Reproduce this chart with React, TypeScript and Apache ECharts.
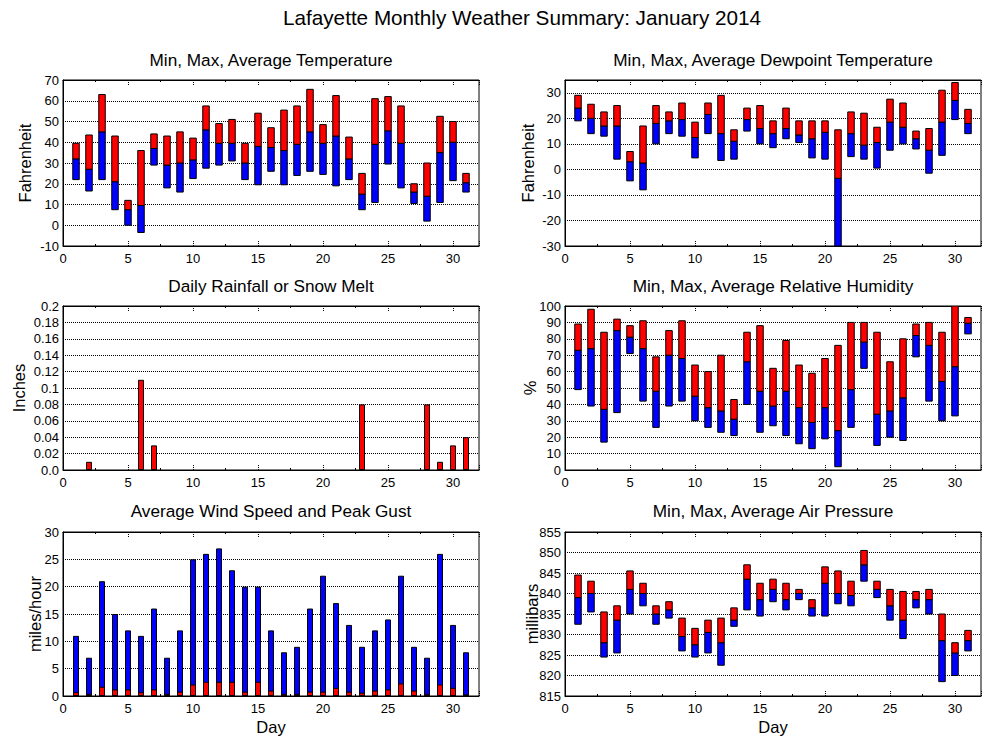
import React, { useEffect, useRef } from "react";
import * as echarts from "echarts";

const days = Array.from({ length: 31 }, (_, i) => i + 1);

const tempMin = [22, 16.5, 22, 7.5, 0, -3.5, 29, 18, 16, 22.5, 27.5, 29, 31, 22, 19.5, 26, 19.5, 24, 26, 24.5, 19, 22, 7.5, 11, 29.5, 18, 10.5, 2, 11, 21.5, 16];
const tempAvg = [32, 27, 45, 21, 7.5, 9.5, 37, 29, 30, 31.5, 46, 39.5, 39.5, 30, 38, 37.5, 36, 39, 45, 39.5, 43, 32, 15, 39, 45.5, 39.5, 16, 14, 35, 40, 20.5];
const tempMax = [39.5, 43.5, 63, 43, 12, 36, 44, 43, 45, 42, 57.5, 49, 51, 39.5, 54, 47, 55.5, 57.5, 65.5, 48.5, 62.5, 42.5, 25, 61, 62, 57.5, 20, 30, 52.5, 50, 25];

const dewMin = [19, 14, 13, 4, -4.5, -8, 10, 14, 13, 4.5, 14, 3.5, 4, 15, 10, 8.5, 12, 10.5, 4.5, 4, -30, 5, 4, 0.5, 7.5, 10, 8, -1.5, 5.5, 19.5, 14];
const dewAvg = [24, 20, 17, 17, 3, 2.5, 18, 19, 19.5, 12.5, 21.5, 14, 11, 19.5, 16, 14, 16, 13.5, 12, 14.5, -3.5, 14, 9.5, 10.5, 18.5, 16.5, 12, 7.5, 18.5, 27, 18];
const dewMax = [29, 25.5, 22.5, 25, 7, 17, 25, 22.5, 26, 18.5, 26, 29, 15.5, 24, 25, 19, 24, 19, 19, 19, 15.5, 22.5, 22, 16.5, 27.5, 26, 15, 16, 31, 34, 23.5];

const rain = [0, 0.01, 0, 0, 0, 0.11, 0.03, 0, 0, 0, 0, 0, 0, 0, 0, 0, 0, 0, 0, 0, 0, 0, 0.08, 0, 0, 0, 0, 0.08, 0.01, 0.03, 0.04];

const humMin = [49, 39, 17, 35, 71, 42, 26, 39, 42, 30, 26, 23, 21, 40, 23, 27, 21, 16, 13, 19, 2, 26, 62, 15, 20, 18, 69, 42, 30, 33, 83];
const humAvg = [73, 74, 37, 85, 81, 74, 48, 70, 68, 45, 38, 36, 31, 66, 48, 39, 48, 38, 29, 38, 24, 49, 78, 34, 36, 44, 82, 76, 54, 63, 89.5];
const humMax = [89, 98, 84, 92, 88, 91, 69, 85, 91, 64, 60, 70, 43, 84, 88, 62, 79, 64, 59, 68, 76, 90, 90, 84, 66, 80, 89, 90, 84, 100, 93];

const windGust = [11, 7, 21, 15, 12, 11, 16, 7, 12, 25, 26, 27, 23, 20, 20, 12, 8, 9, 16, 22, 17, 13, 9, 12, 14, 22, 9, 7, 26, 13, 8];
const windAvg = [0.7, 0.4, 1.7, 1.2, 1.2, 0.7, 1.2, 0.4, 0.8, 2.1, 2.6, 2.6, 2.6, 0.8, 2.6, 1.0, 0.4, 0.4, 0.8, 0.8, 1.5, 0.8, 0.6, 1.0, 1.2, 2.3, 1.0, 0.4, 2.1, 1.5, 0.3];

const presMin = [832.5, 835.5, 824.5, 825.5, 835, 837, 832.5, 834, 826, 824.5, 825.5, 822.5, 832, 836, 834.5, 838, 836, 838.5, 834.5, 834.5, 837.5, 837, 843, 839, 833.5, 829, 836.5, 835, 818.5, 820, 826];
const presAvg = [839, 840, 828, 833.5, 841, 840, 835, 836, 829.5, 827.5, 830.5, 828, 833.5, 843.5, 838.5, 841, 838.5, 840, 836.5, 842.5, 840, 839.5, 847, 841, 837, 833.5, 838.5, 838.5, 828.5, 825.5, 828.5];
const presMax = [844.5, 843, 835.5, 837, 845.5, 842.5, 837, 838, 834, 831.5, 833.5, 834, 836.5, 847, 842.5, 843.5, 842.5, 841, 838.5, 846.5, 845.5, 843, 850.5, 843, 841, 840.5, 840.5, 841, 835, 828, 831];

const mainTitle = "Lafayette Monthly Weather Summary: January 2014";
const panelTitles = [
  "Min, Max, Average Temperature",
  "Min, Max, Average Dewpoint Temperature",
  "Daily Rainfall or Snow Melt",
  "Min, Max, Average Relative Humidity",
  "Average Wind Speed and Peak Gust",
  "Min, Max, Average Air Pressure",
];
const yNames = ["Fahrenheit", "Fahrenheit", "Inches", "%", "miles/hour", "millibars"];
const xName = "Day";

const FONT = '"Liberation Sans", Arial, sans-serif';
const RED = "#ff0000";
const BLUE = "#0000ff";

// layout of the six plot areas
const grids = [
  { left: 63, top: 80, width: 416, height: 166 },
  { left: 565, top: 80, width: 416, height: 166 },
  { left: 63, top: 306, width: 416, height: 164 },
  { left: 565, top: 306, width: 416, height: 164 },
  { left: 63, top: 532, width: 416, height: 164 },
  { left: 565, top: 532, width: 416, height: 164 },
];
const titleY = [60, 60, 286, 286, 511, 511];
const yNameX = [25, 528, 19, 530, 35, 532];

const yScales = [
  { min: -10, max: 70, interval: 10, fmt: (v: number) => String(v) },
  { min: -30, max: 35, interval: 10, fmt: (v: number) => (v > 30 ? "" : String(v)) },
  { min: 0, max: 0.2, interval: 0.02, fmt: (v: number) => (v === 0 ? "0.0" : String(parseFloat(v.toFixed(2)))) },
  { min: 0, max: 100, interval: 10, fmt: (v: number) => String(v) },
  { min: 0, max: 30, interval: 5, fmt: (v: number) => String(v) },
  { min: 815, max: 855, interval: 5, fmt: (v: number) => String(v) },
];

function rangeSeries(idx: number, mins: number[], avgs: number[], maxs: number[]) {
  return {
    type: "custom",
    xAxisIndex: idx,
    yAxisIndex: idx,
    clip: true,
    encode: { x: 0, y: [1, 2, 3] },
    data: days.map((d, i) => [d, mins[i], avgs[i], maxs[i]]),
    renderItem: (_params: any, api: any) => {
      const x = api.value(0);
      const pLo = api.coord([x, api.value(1)]);
      const pMid = api.coord([x, api.value(2)]);
      const pHi = api.coord([x, api.value(3)]);
      const w = api.size([0.5, 0])[0];
      return {
        type: "group",
        children: [
          {
            type: "rect",
            shape: { x: pLo[0] - w / 2, y: pMid[1], width: w, height: pLo[1] - pMid[1] },
            style: { fill: BLUE, stroke: "#000", lineWidth: 1 },
          },
          {
            type: "rect",
            shape: { x: pHi[0] - w / 2, y: pHi[1], width: w, height: pMid[1] - pHi[1] },
            style: { fill: RED, stroke: "#000", lineWidth: 1 },
          },
        ],
      };
    },
  };
}

function textEl(text: string, x: number, y: number, size: number, rotation = 0) {
  return {
    type: "text",
    x,
    y,
    rotation,
    silent: true,
    style: {
      text,
      fill: "#000",
      font: `${size}px ${FONT}`,
      align: "center",
      verticalAlign: "middle",
      textAlign: "center",
      textVerticalAlign: "middle",
    },
  };
}

export default function App() {
  const ref = useRef<HTMLDivElement>(null);

  useEffect(() => {
    if (!ref.current) return;
    const chart = echarts.init(ref.current, undefined, { renderer: "svg" });

    const xAxes: any[] = [];
    grids.forEach((_, i) => {
      xAxes.push({
        type: "value",
        gridIndex: i,
        min: 0,
        max: 32,
        interval: 5,
        position: "bottom",
        axisLine: { show: true, onZero: false, lineStyle: { color: "#000", width: 1 } },
        axisTick: { show: true, inside: true, length: 5, lineStyle: { color: "#000", type: "dotted" } },
        minorTick: { show: true, splitNumber: 2, length: 2, lineStyle: { color: "#000" } },
        axisLabel: {
          color: "#000",
          fontSize: 13,
          fontFamily: FONT,
          margin: 6,
          showMaxLabel: false,
          formatter: (v: number) => (v > 30 ? "" : String(v)),
        },
        splitLine: { show: false },
      });
    });
    grids.forEach((_, i) => {
      xAxes.push({
        type: "value",
        gridIndex: i,
        min: 0,
        max: 32,
        interval: 5,
        position: "top",
        axisLine: { show: true, onZero: false, lineStyle: { color: "#000", width: 1 } },
        axisTick: { show: true, inside: true, length: 5, lineStyle: { color: "#000", type: "dotted" } },
        minorTick: { show: true, splitNumber: 2, length: 2, lineStyle: { color: "#000" } },
        axisLabel: { show: false },
        splitLine: { show: false },
      });
    });

    const yAxes = yScales.map((s, i) => ({
      type: "value",
      gridIndex: i,
      min: s.min,
      max: s.max,
      interval: s.interval,
      axisLine: { show: true, onZero: false, lineStyle: { color: "#000", width: 1 } },
      axisTick: { show: false },
      axisLabel: { color: "#000", fontSize: 13, fontFamily: FONT, margin: 4, formatter: s.fmt },
      splitLine: { show: true, lineStyle: { color: "#000", type: "dotted", width: 1 } },
    }));

    const graphics: any[] = [textEl(mainTitle, 522, 17, 20.7)];
    grids.forEach((g, i) => {
      graphics.push(textEl(panelTitles[i], g.left + g.width / 2, titleY[i], 17.2));
      graphics.push(textEl(yNames[i], yNameX[i], g.top + g.height / 2, 16.5, Math.PI / 2));
    });
    graphics.push(textEl(xName, grids[4].left + grids[4].width / 2, 727, 16.5));
    graphics.push(textEl(xName, grids[5].left + grids[5].width / 2, 727, 16.5));

    const option: any = {
      animation: false,
      backgroundColor: "#fff",
      textStyle: { fontFamily: FONT },
      grid: grids.map((g) => ({
        ...g,
        show: true,
        borderColor: "#000",
        borderWidth: 1,
        backgroundColor: "transparent",
        containLabel: false,
      })),
      xAxis: xAxes,
      yAxis: yAxes,
      graphic: graphics,
      series: [
        rangeSeries(0, tempMin, tempAvg, tempMax),
        rangeSeries(1, dewMin, dewAvg, dewMax),
        {
          type: "bar",
          xAxisIndex: 2,
          yAxisIndex: 2,
          barWidth: 6,
          data: days.map((d, i) => [d, rain[i]]).filter((p) => p[1] > 0),
          itemStyle: { color: RED, borderColor: "#000", borderWidth: 1 },
        },
        rangeSeries(3, humMin, humAvg, humMax),
        {
          type: "bar",
          xAxisIndex: 4,
          yAxisIndex: 4,
          barWidth: 6,
          barGap: "-100%",
          data: days.map((d, i) => [d, windGust[i]]),
          itemStyle: { color: BLUE, borderColor: "#000", borderWidth: 1 },
        },
        {
          type: "bar",
          xAxisIndex: 4,
          yAxisIndex: 4,
          barWidth: 6,
          barGap: "-100%",
          data: days.map((d, i) => [d, windAvg[i]]),
          itemStyle: { color: RED, borderColor: "#000", borderWidth: 1 },
        },
        rangeSeries(5, presMin, presAvg, presMax),
      ],
    };

    chart.setOption(option);
    return () => chart.dispose();
  }, []);

  return (
    <div
      ref={ref}
      style={{ position: "absolute", left: 0, top: 0, width: 1000, height: 750, background: "#fff" }}
    />
  );
}
